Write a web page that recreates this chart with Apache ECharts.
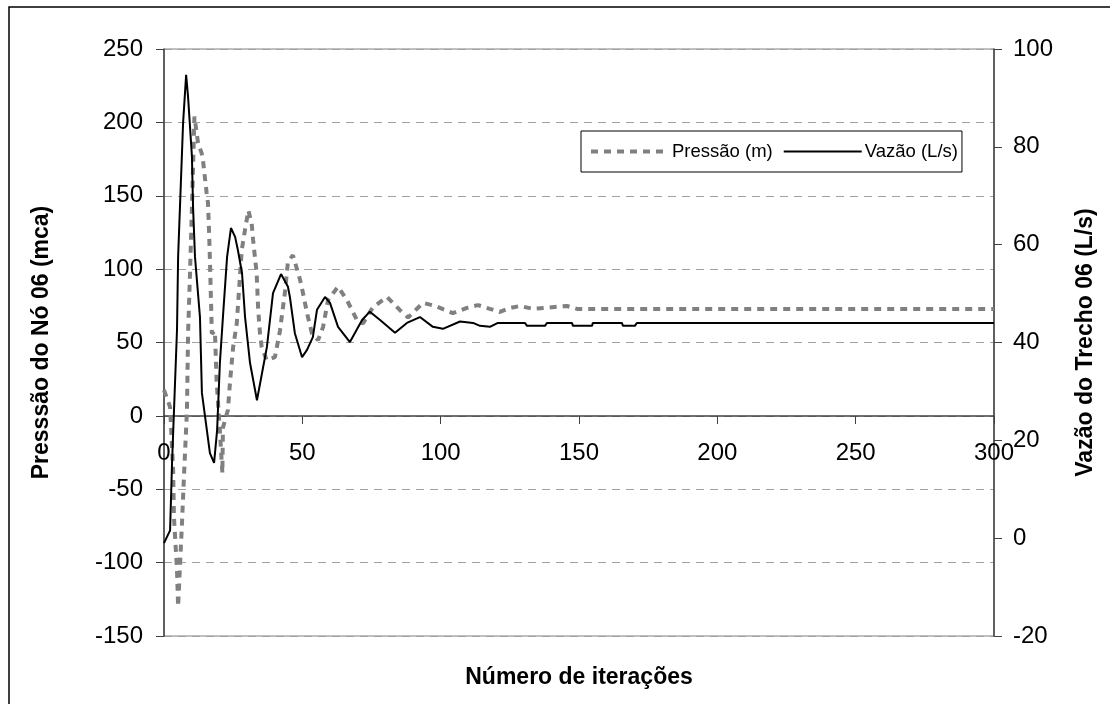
<!DOCTYPE html>
<html>
<head>
<meta charset="utf-8">
<title>Pressão e Vazão</title>
<script src="https://cdn.jsdelivr.net/npm/echarts@6/dist/echarts.min.js"></script>
<style>
  html, body { margin: 0; padding: 0; background: #fff; }
  #chart { width: 1110px; height: 704px; }
</style>
</head>
<body>
<div id="chart"></div>
<script>
// valores (iteração, valor)
const pressaoX = [0, 2.2, 3.3, 3.6, 4.7, 5.1, 6.5, 7.2, 8.3, 8.7, 9.4, 10.1, 11.0, 12.3, 13.6, 14.1,
  15.4, 15.9, 16.3, 16.6, 17.3, 18.4, 19.0, 20.2, 21.1, 21.3, 23.1, 23.9, 25.0, 26.3, 28.1, 29.3,
  30.5, 31.7, 32.2, 33.5, 34.0, 34.7, 35.3, 37.1, 40.1, 41.9, 43.7, 44.8, 46.6, 49.2, 50.2, 51.7,
  53.5, 55.7, 57.5, 59.3, 62.9, 66.1, 69.8, 71.9, 75.5, 80.6, 85.3, 88.2, 93.6, 97.9, 104.4, 109.5,
  113.5, 117.8, 121.4, 125.0, 128.7, 133.4, 145.6, 149.3, 300];
const pressaoY = [17.6, 6, -37, -69, -105, -130, -73, -42, 4, 56, 97, 142, 204, 186, 179, 174,
  152, 145, 125, 106, 56, 58, 24, -10, -39, -8, 4, 24, 47, 63, 113, 127,
  140, 131, 120, 97, 74, 56, 47, 38, 40, 58, 84, 105, 109.5, 92.6, 84, 70,
  56, 51.7, 60.6, 79, 88, 79, 65, 63, 74, 81, 72, 67, 77, 75, 70, 73.6,
  75.5, 72.9, 70.8, 73.5, 74.9, 72.9, 74.9, 72.9, 72.9];

const vazaoX = [0, 2.2, 2.9, 4.7, 5.1, 6.9, 8.0, 8.7, 10.1, 10.5, 11.2, 13.0, 13.7, 16.6, 18.1,
  19.2, 20.2, 21.3, 22.8, 24.2, 25.7, 26.7, 28.2, 29.3, 31.1, 33.6, 37.2, 39.4, 42.3, 44.8, 45.5,
  47.3, 49.9, 51.7, 53.8, 55.3, 58.2, 60.0, 62.9, 67.2, 71.6, 74.4, 78.1, 83.5, 87.8, 92.5, 97.2,
  100.8, 107.0, 111.7, 114.2, 117.8, 120.7, 130.5, 131.2, 137.7, 138.4, 147.5, 147.8, 154.7, 155.0,
  165.5, 165.9, 170.2, 170.9, 300];
const vazaoY = [-1.0, 1.6, 15.3, 42.6, 57.5, 84.9, 94.7, 90.2, 78.0, 67.7, 57.5, 45.2, 29.7, 17.4, 15.4,
  22.1, 35.8, 45.2, 57.5, 63.4, 61.6, 58.9, 54.2, 45.2, 35.8, 28.2, 39.1, 50.1, 54.0, 51.4, 49.3,
  41.9, 37.0, 38.5, 41.1, 46.7, 49.3, 48.1, 43.2, 40.1, 44.6, 46.3, 44.6, 42.0, 44.0, 45.2, 43.2,
  42.8, 44.3, 44.0, 43.4, 43.2, 44.0, 44.0, 43.4, 43.4, 44.0, 44.0, 43.4, 43.4, 44.0,
  44.0, 43.4, 43.4, 44.0, 44.0];

const xTicks = { min: 0, max: 300, interval: 50 };
const leftTicks = { min: -150, max: 250, interval: 50 };
const rightTicks = { min: -20, max: 100, interval: 20 };

const pressaoData = pressaoX.map((x, i) => [x, pressaoY[i]]);
const vazaoData = vazaoX.map((x, i) => [x, vazaoY[i]]);

const font = "'Liberation Sans', Arial, sans-serif";
const titleStyle = { fontSize: 23, fontWeight: "bold", color: "#000", fontFamily: font };
const chart = echarts.init(document.getElementById("chart"));

chart.setOption({
  animation: false,
  textStyle: { fontFamily: font },
  grid: {
    left: 164, right: 116, top: 49, bottom: 68,
    outerBoundsMode: "none",
    containLabel: false,
    show: true, borderColor: "#808080", borderWidth: 1
  },
  graphic: [{
    type: "rect",
    shape: { x: 9, y: 7, width: 1120, height: 720 },
    style: { fill: null, stroke: "#000", lineWidth: 1.5 },
    silent: true
  }],
  legend: {
    left: 581, top: 131,
    padding: [11, 4, 11, 8],
    itemWidth: 78, itemHeight: 10, itemGap: 10,
    borderColor: "#000", borderWidth: 1,
    itemStyle: { opacity: 0 },
    textStyle: { fontSize: 18.5, color: "#000", fontFamily: font, padding: [0, 0, 0, -2] },
    data: [
      { name: "Pressão (m)", lineStyle: { width: 4 } },
      { name: "Vazão (L/s)", lineStyle: { width: 2 } }
    ]
  },
  xAxis: {
    type: "value",
    position: "bottom",
    // eixo cruzando em y = 0 do eixo da esquerda
    offset: -220,
    min: xTicks.min, max: xTicks.max, interval: xTicks.interval,
    name: "Número de iterações",
    nameLocation: "middle",
    nameGap: 250,
    nameTextStyle: titleStyle,
    axisLine: { onZero: false, lineStyle: { color: "#404040", width: 1.5 } },
    axisTick: { inside: false, length: 8, lineStyle: { color: "#404040" } },
    axisLabel: { fontSize: 24, color: "#000", margin: 25 },
    splitLine: { show: false }
  },
  yAxis: [{
    type: "value",
    min: leftTicks.min, max: leftTicks.max, interval: leftTicks.interval,
    name: "Presssão do Nó 06 (mca)",
    nameLocation: "middle",
    nameGap: 111,
    nameTextStyle: titleStyle,
    axisLine: { show: true, onZero: false, lineStyle: { color: "#404040", width: 1.5 } },
    axisTick: { show: true, length: 8, lineStyle: { color: "#404040" } },
    axisLabel: { fontSize: 24, color: "#000", margin: 21 },
    splitLine: { show: true, lineStyle: { color: "#a0a0a0", type: [8, 6] } }
  }, {
    type: "value",
    position: "right",
    min: rightTicks.min, max: rightTicks.max, interval: rightTicks.interval,
    name: "Vazão do Trecho 06 (L/s)",
    nameLocation: "middle",
    nameGap: 80,
    nameRotate: 90,
    nameTextStyle: titleStyle,
    axisLine: { show: true, onZero: false, lineStyle: { color: "#404040", width: 1.5 } },
    axisTick: { show: true, length: 8, lineStyle: { color: "#404040" } },
    axisLabel: { fontSize: 24, color: "#000", margin: 19 },
    splitLine: { show: false }
  }],
  series: [{
    name: "Pressão (m)",
    type: "line",
    yAxisIndex: 0,
    data: pressaoData,
    showSymbol: false,
    symbol: "none",
    lineStyle: { color: "#808080", width: 4, type: [7, 6] },
    itemStyle: { color: "#808080" },
    z: 2
  }, {
    name: "Vazão (L/s)",
    type: "line",
    yAxisIndex: 1,
    data: vazaoData,
    showSymbol: false,
    symbol: "none",
    lineStyle: { color: "#000", width: 2 },
    itemStyle: { color: "#000" },
    z: 3
  }]
});
</script>
</body>
</html>
